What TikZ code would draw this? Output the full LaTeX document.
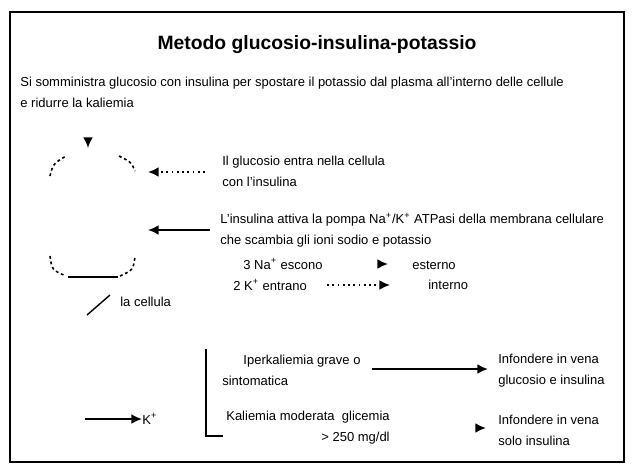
\documentclass[tikz,border=0pt]{standalone}
\usepackage{fontspec}
\setmainfont{Liberation Sans}
\usetikzlibrary{arrows.meta,positioning}

\begin{document}
\begin{tikzpicture}[x=0.02cm,y=-0.02cm,every node/.style={font=\fontsize{7.4}{12}\selectfont,inner sep=0pt},
  txt/.style={align=left,anchor=west},
  cellline/.style={line width=.9pt,dash pattern=on 1.6pt off 1.6pt},
  tip/.style={-{Latex[length=6pt,width=5.5pt]},line width=1pt}]
\useasboundingbox (0,0) rectangle (634,473);
\draw[line width=1.2pt] (10,12) rectangle (624,462);
\node[font=\fontsize{11}{13}\selectfont\bfseries] (title) at (317,45) {Metodo glucosio-insulina-potassio};
\node[txt] (intro) at (20,92) {Si somministra glucosio con insulina per spostare il potassio dal plasma all'interno delle cellule\\e ridurre la kaliemia};
% la cellula
\draw[cellline] (50,176) .. controls (53,164) .. (66,156);
\draw[cellline] (119,156) .. controls (131,162) .. (135,171);
\draw[cellline] (50,256) .. controls (52,270) .. (66,276);
\draw[line width=1.2pt] (68,277) -- (118,277);
\draw[cellline] (120,276) .. controls (133,270) .. (135,257);
\coordinate (entry) at (88,148);
\coordinate (top) at (88,140);
\draw[tip] (top) -- (entry);
\coordinate (cellA) at (148,172);
\coordinate (cellB) at (148,230);
\coordinate (ptr) at (87,315);
\node[txt] (cell) at (120,302) {la cellula};
\draw[line width=.8pt] (ptr) -- (110,295);
% frecce verso la cellula
\node[txt] (glu) at (222,171) {Il glucosio entra nella cellula\\con l'insulina};
\draw[tip,dotted] (205,172) coordinate (gluT) -- (cellA);
\node[txt] (pump) at (220,230) {L'insulina attiva la pompa Na\textsuperscript{+}/K\textsuperscript{+} ATPasi della membrana cellulare\\che scambia gli ioni sodio e potassio};
\draw[tip] (210,230) coordinate (pumpT) -- (cellB);
\node[txt] (na) at (243,264) {3 Na\textsuperscript{+} escono};
\node[txt] (k) at (233,285) {2 K\textsuperscript{+} entrano};
\node[txt] (naout) at (412,265) {esterno};
\node[txt] (kin) at (428,285) {interno};
\coordinate (naTip) at (388,264);
\coordinate (naTail) at (380,264);
\draw[tip] (naTail) -- (naTip);
\coordinate (kTip) at (390,285);
\draw[tip,dotted] (327,285) coordinate (kTail) -- (kTip);
% indicazioni
\coordinate (kS) at (85,419);
\node[txt] (kpl) at (142,419) {K\textsuperscript{+}};
\draw[tip] (kS) -- (kpl.west);
\draw[line width=1.1pt] (206,349) -- (206,436) -- (223,436);
\node[txt] (severe) at (222,370) {\hspace{12pt}Iperkaliemia grave o\\sintomatica};
\node[txt] (treat1) at (498,371) {Infondere in vena\\glucosio e insulina};
\coordinate (sevE) at (372,369);
\coordinate (treatA) at (488,369);
\draw[tip] (sevE) -- (treatA);
\node[align=right,anchor=east] (mild) at (390,428) {Kaliemia moderata \ glicemia\\> 250 mg/dl};
\node[txt] (treat2) at (498,430) {Infondere in vena\\solo insulina};
\coordinate (mildTip) at (486,428);
\coordinate (mildTail) at (478,428);
\draw[tip] (mildTail) -- (mildTip);
\end{tikzpicture}
\end{document}
